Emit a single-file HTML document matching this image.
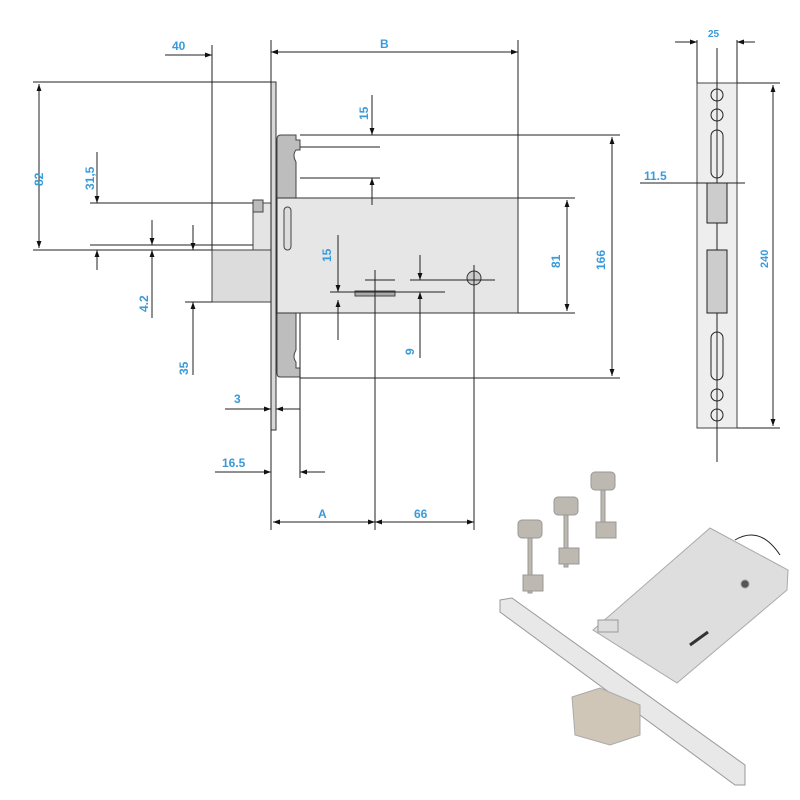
<!DOCTYPE html>
<html><head><meta charset="utf-8"><style>
html,body{margin:0;padding:0;background:#fff;}
svg{display:block;}
text{font-family:"Liberation Sans",sans-serif;font-size:12px;fill:#3a9ad9;font-weight:bold;}
</style></head><body>
<svg width="800" height="800" viewBox="0 0 800 800" xmlns="http://www.w3.org/2000/svg">
<defs>
<marker id="a" viewBox="0 0 10 10" refX="10" refY="5" markerWidth="7" markerHeight="7" orient="auto-start-reverse"><path d="M0,1.5 L10,5 L0,8.5z" fill="#111"/></marker>
</defs>
<g stroke="#222" stroke-width="1" fill="none">
<!-- bolt & latch -->
<rect x="212" y="250" width="59" height="52" fill="#dcdcdc" stroke="#444"/>
<rect x="253" y="203" width="18" height="47" fill="#e4e4e4" stroke="#444"/>
<rect x="253" y="200" width="10" height="12" fill="#bbb" stroke="#444"/>
<!-- front plate gray -->
<path d="M281,135 H296 V140 H300 V150 H296 Q292,155 296,162 V198 H277 V139 Q277,135 281,135z" fill="#bdbdbd" stroke="#444"/>
<path d="M277,313 H296 V350 Q292,357 296,362 V368 H300 V377 H280 Q277,377 277,373z" fill="#bdbdbd" stroke="#444"/>
<!-- body -->
<rect x="277" y="198" width="241" height="115" fill="#e6e6e6" stroke="#333"/>
<rect x="284" y="207" width="7" height="43" rx="3.5" fill="#ddd" stroke="#444"/>
<circle cx="474" cy="278" r="7" fill="#ccc" stroke="#333"/>
<path d="M355,291 H395 V296 H355z" fill="#aaa" stroke="#444"/>
<!-- faceplate -->
<rect x="271" y="82" width="5" height="348" fill="#d8d8d8" stroke="#333"/>
<!-- extension lines -->
<line x1="33" y1="82" x2="271" y2="82"/>
<line x1="33" y1="250" x2="212" y2="250"/>
<line x1="90" y1="203" x2="253" y2="203"/>
<line x1="90" y1="245" x2="253" y2="245"/>
<line x1="185" y1="302" x2="212" y2="302"/>
<line x1="212" y1="45" x2="212" y2="250"/>
<line x1="271" y1="40" x2="271" y2="530"/>
<line x1="518" y1="40" x2="518" y2="198"/>
<line x1="300" y1="135" x2="620" y2="135"/>
<line x1="300" y1="378" x2="620" y2="378"/>
<line x1="300" y1="147" x2="380" y2="147"/>
<line x1="300" y1="178" x2="380" y2="178"/>
<line x1="518" y1="198" x2="575" y2="198"/>
<line x1="518" y1="313" x2="575" y2="313"/>
<line x1="300" y1="313" x2="300" y2="478"/>
<line x1="375" y1="270" x2="375" y2="530"/>
<line x1="474" y1="265" x2="474" y2="530"/>
<line x1="330" y1="292" x2="445" y2="292"/>
<line x1="365" y1="280" x2="395" y2="280"/>
<line x1="410" y1="280" x2="495" y2="280"/>
<!-- dimensions -->
<line x1="39" y1="84" x2="39" y2="248" marker-start="url(#a)" marker-end="url(#a)"/>
<line x1="97" y1="152" x2="97" y2="203" marker-end="url(#a)"/>
<line x1="97" y1="270" x2="97" y2="250" marker-end="url(#a)"/>
<line x1="152" y1="220" x2="152" y2="245" marker-end="url(#a)"/>
<line x1="152" y1="318" x2="152" y2="250" marker-end="url(#a)"/>
<line x1="193" y1="225" x2="193" y2="250" marker-end="url(#a)"/>
<line x1="193" y1="375" x2="193" y2="302" marker-end="url(#a)"/>
<line x1="165" y1="55" x2="212" y2="55" marker-end="url(#a)"/>
<line x1="271" y1="52" x2="518" y2="52" marker-start="url(#a)" marker-end="url(#a)"/>
<line x1="372" y1="95" x2="372" y2="135" marker-end="url(#a)"/>
<line x1="372" y1="205" x2="372" y2="178" marker-end="url(#a)"/>
<line x1="612" y1="137" x2="612" y2="376" marker-start="url(#a)" marker-end="url(#a)"/>
<line x1="567" y1="200" x2="567" y2="311" marker-start="url(#a)" marker-end="url(#a)"/>
<line x1="338" y1="235" x2="338" y2="292" marker-end="url(#a)"/>
<line x1="338" y1="340" x2="338" y2="300" marker-end="url(#a)"/>
<line x1="420" y1="255" x2="420" y2="280" marker-end="url(#a)"/>
<line x1="420" y1="358" x2="420" y2="292" marker-end="url(#a)"/>
<line x1="225" y1="409" x2="271" y2="409" marker-end="url(#a)"/>
<line x1="300" y1="409" x2="276" y2="409" marker-end="url(#a)"/>
<line x1="215" y1="472" x2="271" y2="472" marker-end="url(#a)"/>
<line x1="325" y1="472" x2="300" y2="472" marker-end="url(#a)"/>
<line x1="273" y1="522" x2="375" y2="522" marker-start="url(#a)" marker-end="url(#a)"/>
<line x1="375" y1="522" x2="474" y2="522" marker-start="url(#a)" marker-end="url(#a)"/>
<!-- strike plate -->
<rect x="697" y="83" width="40" height="345" fill="#eee" stroke="#444"/>
<line x1="717" y1="48" x2="717" y2="462"/>
<line x1="697" y1="40" x2="697" y2="83"/><line x1="737" y1="40" x2="737" y2="83"/>
<line x1="675" y1="42" x2="697" y2="42" marker-end="url(#a)"/>
<line x1="755" y1="42" x2="737" y2="42" marker-end="url(#a)"/>
<line x1="737" y1="83" x2="780" y2="83"/><line x1="737" y1="428" x2="780" y2="428"/>
<line x1="773" y1="85" x2="773" y2="426" marker-start="url(#a)" marker-end="url(#a)"/>
<line x1="640" y1="183" x2="745" y2="183"/>
<circle cx="717" cy="95" r="6"/><circle cx="717" cy="115" r="6"/>
<rect x="711" y="130" width="12" height="48" rx="6"/>
<rect x="707" y="183" width="20" height="40" fill="#ccc"/>
<rect x="707" y="250" width="20" height="63" fill="#ccc"/>
<rect x="711" y="332" width="12" height="48" rx="6"/>
<circle cx="717" cy="395" r="6"/><circle cx="717" cy="415" r="6"/>
</g>
<!-- labels -->
<text x="172" y="50">40</text>
<text x="380" y="48">B</text>
<text transform="translate(368,120) rotate(-90)">15</text>
<text transform="translate(43,186) rotate(-90)">82</text>
<text transform="translate(94,190) rotate(-90)">31,5</text>
<text transform="translate(148,312) rotate(-90)">4.2</text>
<text transform="translate(188,375) rotate(-90)">35</text>
<text transform="translate(331,262) rotate(-90)">15</text>
<text transform="translate(414,355) rotate(-90)">9</text>
<text transform="translate(560,268) rotate(-90)">81</text>
<text transform="translate(605,270) rotate(-90)">166</text>
<text x="234" y="403">3</text>
<text x="222" y="467">16.5</text>
<text x="318" y="518">A</text>
<text x="414" y="518">66</text>
<text x="708" y="37" style="font-size:10px">25</text>
<text x="644" y="180">11.5</text>
<text transform="translate(768,268) rotate(-90)" style="font-size:11px">240</text>
<!-- photo -->
<g stroke="#999" stroke-width="1">
<polygon points="500,600 512,598 745,765 745,785 735,785 500,612" fill="#e8e8e8"/>
<polygon points="593,630 710,528 788,570 787,590 677,683" fill="#dedede" stroke="#aaa"/>
<polygon points="572,697 600,688 640,705 640,735 610,745 575,735" fill="#cfc6b8" stroke="#aaa"/>
<rect x="598" y="620" width="20" height="12" fill="#ddd"/>
<circle cx="745" cy="584" r="4" fill="#555"/>
<path d="M735,540 Q760,525 780,555" stroke="#222" fill="none"/>
<path d="M690,645 L708,632" stroke="#333" stroke-width="3"/>
</g>
<g fill="#bdb8b0" stroke="#999">
<rect x="518" y="520" width="24" height="18" rx="4"/><rect x="528" y="538" width="4" height="55"/><rect x="523" y="575" width="20" height="16"/>
<rect x="554" y="497" width="24" height="18" rx="4"/><rect x="564" y="515" width="4" height="52"/><rect x="559" y="548" width="20" height="16"/>
<rect x="591" y="472" width="24" height="18" rx="4"/><rect x="601" y="490" width="4" height="48"/><rect x="596" y="522" width="20" height="16"/>
</g>
</svg>
</body></html>
